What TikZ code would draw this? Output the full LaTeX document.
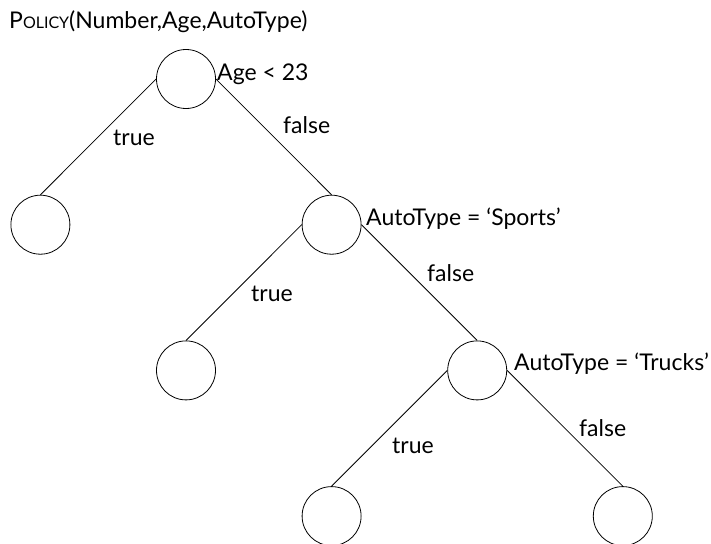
\documentclass[tikz,border=0pt]{standalone}
\usepackage{fontspec}
\setmainfont{Lato}
\usepackage{tikz}
\usetikzlibrary{positioning}
\newcommand{\fakesc}[1]{{\fontsize{16}{19}\selectfont #1}}

\begin{document}
\begin{tikzpicture}[
  x=1pt, y=-1pt,
  font=\fontsize{23}{27}\selectfont,
  dnode/.style={draw, circle, minimum size=59pt, inner sep=0pt, line width=0.8pt},
  edge/.style={line width=0.8pt},
  lbl/.style={inner sep=0pt, anchor=base west},
]
\useasboundingbox (0,0) rectangle (711,543);

% grid steps (pixels)
\def\dx{145.6}
\def\dy{145.7}

%% ---- title ----
\node[lbl] (title) at (9, 29) {P\fakesc{OLICY}(Number,Age,AutoType)};

%% ---- tree nodes ----
\node[dnode] (root) at (186, 79) {};
\node[dnode] (l1)   at (186-\dx, 79+\dy) {};
\node[dnode] (n2)   at (186+\dx, 79+\dy) {};
\node[dnode] (l2)   at (186, 79+2*\dy) {};
\node[dnode] (n3)   at (186+2*\dx, 79+2*\dy) {};
\node[dnode] (l3)   at (186+\dx, 79+3*\dy) {};
\node[dnode] (l4)   at (186+3*\dx, 79+3*\dy) {};

%% ---- conditions ----
\node[lbl] (c1) at (217, 80)  {Age < 23};
\node[lbl] (c2) at (366, 225) {AutoType = ‘Sports’};
\node[lbl] (c3) at (514, 370) {AutoType = ‘Trucks’};

%% ---- branches: west side to true child, east side to false child ----
\foreach \a/\b in {root/l1, n2/l2, n3/l3}{\draw[edge] (\a.west) -- (\b.north);}
\foreach \a/\b in {root/n2, n2/n3, n3/l4}{\draw[edge] (\a.east) -- (\b.north);}

%% ---- branch labels ----
\node[lbl] (t1) at (113, 145) {true};
\node[lbl] (f1) at (283, 133) {false};
\node[lbl] (t2) at (251, 301) {true};
\node[lbl] (f2) at (427, 281) {false};
\node[lbl] (t3) at (392, 453) {true};
\node[lbl] (f3) at (579, 436) {false};

\end{tikzpicture}
\end{document}
